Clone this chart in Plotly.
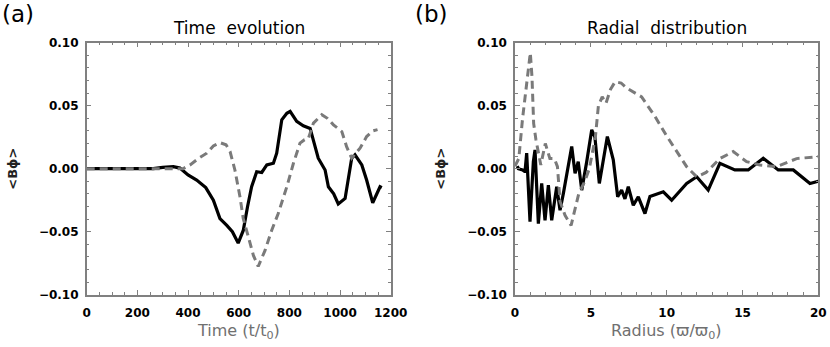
import plotly.graph_objects as go

# Panel (a): time evolution
t_solid = [0, 100, 200, 263, 300, 342, 368, 400, 434, 470, 500, 526, 553, 575, 598, 618, 635, 651, 671, 691,
           711, 737, 750, 770, 790, 803, 829, 855, 882, 895, 914, 941, 954, 975, 993, 1020, 1046, 1059, 1086, 1105,
           1129, 1158, 1165]
b_solid = [0, 0, 0, 0, 0.001, 0.0016, 0.0005, -0.005, -0.009, -0.015, -0.025, -0.0396, -0.045, -0.05, -0.059, -0.049,
           -0.03, -0.0143, -0.0024, -0.003, 0.003, 0.0043, 0.0123, 0.0388, 0.044, 0.0455, 0.0375, 0.034, 0.032, 0.0229,
           0.0083, -0.001, -0.0143, -0.02, -0.028, -0.0236, 0.0083, 0.011, 0.003, -0.009, -0.027, -0.0143, -0.015]
t_dash = [0, 100, 200, 300, 380, 408, 440, 474, 500, 526, 550, 566, 585, 605, 618, 638, 658, 677, 704, 730,
          756, 790, 816, 842, 860, 875, 895, 928, 950, 974, 1007, 1026, 1046, 1079, 1105, 1130, 1148]
b_dash = [0, 0, 0, 0, 0, 0.003, 0.008, 0.0123, 0.018, 0.0207, 0.019, 0.0136, -0.001, -0.0223, -0.0396, -0.054,
          -0.0688, -0.0776, -0.0648, -0.049, -0.0356, -0.0143, 0.0043, 0.0203, 0.023, 0.024, 0.0362, 0.0428, 0.040,
          0.0348, 0.0295, 0.0175, 0.0083, 0.0163, 0.0255, 0.030, 0.031]

# Panel (b): radial distribution
r_solid = [0.15, 0.22, 0.5, 0.66, 0.77, 0.99, 1.21, 1.32, 1.54, 1.76, 1.98, 2.2, 2.42, 2.75, 2.97, 3.19, 3.74, 3.96,
           4.17, 4.4, 4.73, 5.06, 5.27, 5.56, 6.09, 6.48, 6.77, 7.03, 7.25, 7.47, 7.8, 8.13, 8.57, 8.9, 9.78, 10.33,
           11.32, 11.98, 12.74, 13.51, 14.5, 15.38, 16.37, 17.36, 18.35, 19.45, 20.0]
br_solid = [0.002, 0.0, -0.001, -0.0024, 0.0123, -0.042, 0.0056, 0.0149, -0.0436, -0.0117, -0.041, -0.013, -0.041,
            -0.0143, -0.033, -0.0196, 0.0176, -0.0037, 0.0056, -0.017, 0.0056, 0.0309, 0.025, -0.0117, 0.0255, 0.007,
            -0.0223, -0.017, -0.024, -0.0143, -0.029, -0.0223, -0.0356, -0.022, -0.0183, -0.025, -0.0117, -0.0064,
            -0.017, 0.0043, -0.001, -0.001, 0.0083, -0.001, -0.001, -0.0117, -0.010]
r_dash = [0.0, 0.25, 0.5, 0.79, 1.01, 1.12, 1.23, 1.38, 1.55, 1.7, 2.0, 2.3, 2.6, 2.8, 2.97, 3.3, 3.7, 3.9, 4.2, 4.6,
          4.9, 5.3, 5.5, 5.75, 6.0, 6.3, 6.6, 7.0, 7.36, 8.35, 9.23, 10.0, 10.69, 11.32, 11.98, 12.6, 13.51, 14.39,
          15.27, 16.15, 17.25, 18.57, 20.0]
br_dash = [0.002, 0.008, 0.04, 0.068, 0.092, 0.073, 0.036, 0.023, 0.012, 0.003, 0.02, 0.008, 0.008, 0.0016, -0.026,
           -0.037, -0.045, -0.035, -0.02, -0.01, 0.0, 0.025, 0.05, 0.057, 0.052, 0.063, 0.069, 0.068, 0.064, 0.057,
           0.0415, 0.026, 0.0136, 0.0016, -0.0064, -0.003, 0.008, 0.0136, 0.0056, 0.003, 0.0016, 0.008, 0.0096]

y_ticks = [-0.10, -0.05, 0.00, 0.05, 0.10]
y_ticklabels = ["\u22120.10", "\u22120.05", "0.00", "0.05", "0.10"]

BLACK = "#000000"
GRAY = "#7a7a7a"
FRAME = "#808080"
FONT = "DejaVu Sans, Verdana, sans-serif"

fig = go.Figure()
fig.add_trace(go.Scatter(x=t_solid, y=b_solid, mode="lines", line=dict(color=BLACK, width=3.2), xaxis="x", yaxis="y"))
fig.add_trace(go.Scatter(x=t_dash, y=b_dash, mode="lines", line=dict(color=GRAY, width=3, dash="8px,5px"), xaxis="x", yaxis="y"))
fig.add_trace(go.Scatter(x=r_solid, y=br_solid, mode="lines", line=dict(color=BLACK, width=3.2), xaxis="x2", yaxis="y2"))
fig.add_trace(go.Scatter(x=r_dash, y=br_dash, mode="lines", line=dict(color=GRAY, width=3, dash="8px,5px"), xaxis="x2", yaxis="y2"))

common = dict(showgrid=False, zeroline=False, showline=True, linecolor=FRAME, linewidth=1.5, mirror="ticks",
              ticks="inside", ticklen=5, tickcolor=FRAME, tickwidth=1, automargin=False,
              tickfont=dict(family=FONT, size=12, color=BLACK, weight="bold"))

X0a, X1a = 86.7, 390.7
X0b, X1b = 515.0, 818.3
YT, YB = 42.7, 294.7
W, H = 830, 347
ydom = [1 - YB / H, 1 - YT / H]

fig.update_layout(
    width=W, height=H,
    margin=dict(l=0, r=0, t=0, b=0),
    paper_bgcolor="white", plot_bgcolor="white",
    showlegend=False,
    xaxis=dict(common, domain=[X0a / W, X1a / W], range=[0, 1200], tickvals=[0, 200, 400, 600, 800, 1000, 1200],
               minor=dict(ticks="inside", dtick=50, ticklen=3, tickcolor=FRAME), ticklabelstandoff=6, anchor="y"),
    yaxis=dict(common, domain=ydom, range=[-0.10, 0.10], tickvals=y_ticks, ticktext=y_ticklabels,
               minor=dict(ticks="inside", dtick=0.01, ticklen=3, tickcolor=FRAME), ticklabelstandoff=4, anchor="x"),
    xaxis2=dict(common, domain=[X0b / W, X1b / W], range=[0, 20], tickvals=[0, 5, 10, 15, 20],
                minor=dict(ticks="inside", dtick=1, ticklen=3, tickcolor=FRAME), ticklabelstandoff=6, anchor="y2"),
    yaxis2=dict(common, domain=ydom, range=[-0.10, 0.10], tickvals=y_ticks, ticktext=y_ticklabels,
                minor=dict(ticks="inside", dtick=0.01, ticklen=3, tickcolor=FRAME), ticklabelstandoff=4, anchor="x2"),
)

def ann(text, x, y, size, color=BLACK, angle=0, xanchor="center", yanchor="middle", weight="normal"):
    fig.add_annotation(text=text, x=x / W, y=1 - y / H, xref="paper", yref="paper", xanchor=xanchor,
                       yanchor=yanchor, showarrow=False, textangle=angle,
                       font=dict(family=FONT, size=size, color=color, weight=weight))

ann("(a)", 0, 14, 23, xanchor="left")
ann("(b)", 413, 14, 23, xanchor="left")
ann("Time  evolution", (X0a + X1a) / 2, 28, 17)
ann("Radial  distribution", (X0b + X1b) / 2, 28, 17)
ann("Time (t/t<sub>0</sub>)", (X0a + X1a) / 2, 331, 16, color="#707070")
ann("Radius (\u03d6/\u03d6<sub>0</sub>)", (X0b + X1b) / 2, 331, 16, color="#707070")
ann("&lt;B\u03d5&gt;", 13, (YT + YB) / 2, 13, color="#222222", angle=-90, weight="bold")
ann("&lt;B\u03d5&gt;", 441, (YT + YB) / 2, 13, color="#222222", angle=-90, weight="bold")

fig.write_html("out.html", config={"displayModeBar": False},
               post_script="document.body.style.margin='0';document.body.style.overflow='hidden';")
